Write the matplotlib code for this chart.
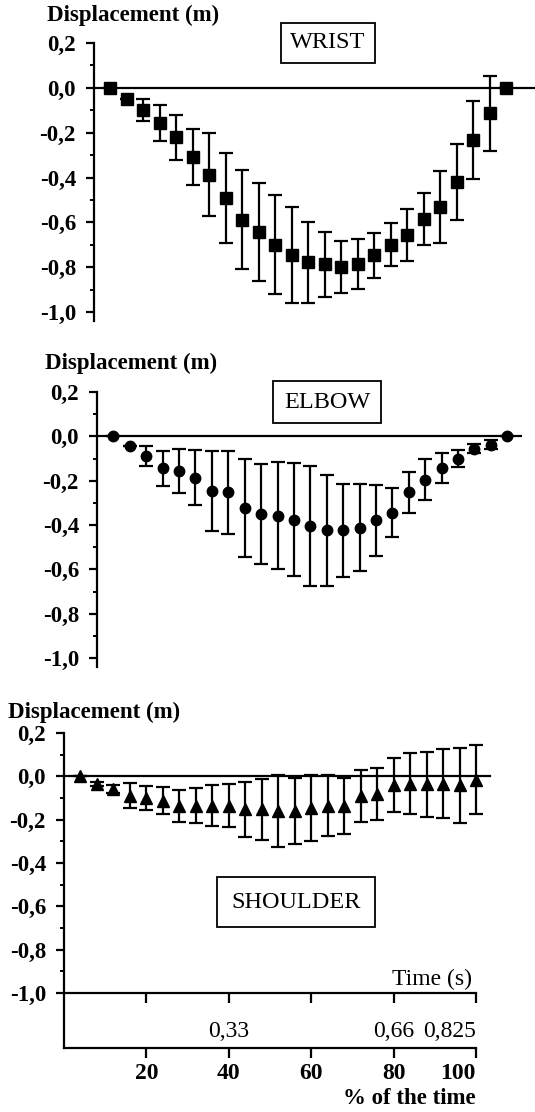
import matplotlib
matplotlib.use("Agg")
import matplotlib.pyplot as plt
import numpy as np

plt.rcParams['font.family'] = ['Liberation Serif', 'DejaVu Serif']

# % of movement time, one sample every 4 %
pct = np.arange(4, 101, 4)

wrist_mean = [0.0, -0.05, -0.10, -0.155, -0.22, -0.307, -0.387, -0.49, -0.588, -0.643,
              -0.70, -0.746, -0.778, -0.786, -0.80, -0.786, -0.746, -0.70, -0.657, -0.586,
              -0.532, -0.421, -0.233, -0.114, 0.0]
wrist_sd = [0.0, 0.0, 0.05, 0.08, 0.10, 0.125, 0.185, 0.20, 0.22, 0.22,
            0.22, 0.215, 0.18, 0.145, 0.115, 0.11, 0.10, 0.095, 0.115, 0.115,
            0.16, 0.17, 0.175, 0.166, 0.0]

elbow_mean = [0.0, -0.043, -0.088, -0.144, -0.156, -0.186, -0.246, -0.253, -0.323, -0.35,
              -0.357, -0.375, -0.405, -0.423, -0.423, -0.412, -0.378, -0.345, -0.253, -0.196,
              -0.144, -0.10, -0.055, -0.037, 0.0]
elbow_sd = [0.0, 0.0, 0.046, 0.078, 0.10, 0.123, 0.18, 0.186, 0.22, 0.225,
            0.24, 0.255, 0.27, 0.25, 0.21, 0.195, 0.16, 0.11, 0.094, 0.092,
            0.067, 0.04, 0.02, 0.02, 0.0]

shoulder_mean = [0.0, -0.034, -0.058, -0.089, -0.10, -0.112, -0.136, -0.136, -0.136, -0.136,
                 -0.152, -0.152, -0.16, -0.16, -0.147, -0.136, -0.136, -0.089, -0.081, -0.039,
                 -0.034, -0.037, -0.034, -0.042, -0.016]
shoulder_sd = [0.0, 0.01, 0.02, 0.056, 0.055, 0.063, 0.074, 0.08, 0.094, 0.10,
               0.127, 0.142, 0.165, 0.154, 0.152, 0.14, 0.13, 0.12, 0.121, 0.125,
               0.142, 0.15, 0.16, 0.174, 0.16]

y_ticks = [0.2, 0.0, -0.2, -0.4, -0.6, -0.8, -1.0]
y_ticklabels = ['0,2', '0,0', '-0,2', '-0,4', '-0,6', '-0,8', '-1,0']
pct_ticks = [20, 40, 60, 80, 100]
time_ticklabels = ['', '0,33', '', '0,66', '0,825']

W, H = 535, 1112
fig = plt.figure(figsize=(W / 100, H / 100), dpi=100)

TICK_FS = 16.5
BOX_FS = 17.5


def add_axes_px(left, top, right, bottom):
    return fig.add_axes([left / W, 1 - bottom / H, (right - left) / W, (bottom - top) / H])


def style_y(ax):
    for s in ('top', 'right', 'bottom'):
        ax.spines[s].set_visible(False)
    ax.spines['left'].set_linewidth(1.6)
    ax.set_yticks(y_ticks)
    ax.set_yticklabels(y_ticklabels, fontsize=TICK_FS, fontweight='bold')
    ax.set_yticks(np.arange(-0.9, 0.15, 0.2), minor=True)
    ax.tick_params(axis='y', which='major', length=6, width=1.6, pad=7)
    ax.tick_params(axis='y', which='minor', length=3, width=1.4)
    ax.set_xticks([])


def draw_series(ax, mean, sd, marker, ms):
    ax.errorbar(pct, mean, yerr=sd, fmt=marker, color='black', ms=ms,
                elinewidth=1.6, capsize=5, capthick=1.6, clip_on=False, zorder=3)


# WRIST
ax1 = add_axes_px(94, 43, 535, 321)
ax1.set_xlim(0, 107)
ax1.set_ylim(-1.04, 0.2)
style_y(ax1)
ax1.axhline(0, color='black', lw=1.6, zorder=2)
draw_series(ax1, wrist_mean, wrist_sd, 's', 8.5)
fig.text(47 / W, 1 - 15 / H, 'Displacement (m)', fontsize=TICK_FS, fontweight='bold',
         ha='left', va='center')
fig.text(328 / W, 1 - 43 / H, 'WRIST', fontsize=BOX_FS, ha='center', va='center',
         bbox=dict(boxstyle='square,pad=0.4', fc='white', ec='black', lw=1.3))

# ELBOW
ax2 = add_axes_px(97, 392, 522, 667)
ax2.set_xlim(0, 103.6)
ax2.set_ylim(-1.04, 0.2)
style_y(ax2)
ax2.axhline(0, color='black', lw=1.6, zorder=2)
draw_series(ax2, elbow_mean, elbow_sd, 'o', 7.5)
fig.text(45 / W, 1 - 363 / H, 'Displacement (m)', fontsize=TICK_FS, fontweight='bold',
         ha='left', va='center')
fig.text(327 / W, 1 - 402 / H, 'ELBOW', fontsize=BOX_FS, ha='center', va='center',
         bbox=dict(boxstyle='square,pad=0.45', fc='white', ec='black', lw=1.3))

# SHOULDER
ax3 = add_axes_px(64, 733, 476, 1048)
ax3.set_xlim(0, 100)
ax3.set_ylim(0.2 - 315 / 216.7, 0.2)
ax3.spines['top'].set_visible(False)
ax3.spines['right'].set_visible(False)
ax3.spines['left'].set_linewidth(1.6)
ax3.spines['bottom'].set_linewidth(1.6)
ax3.set_yticks(y_ticks)
ax3.set_yticklabels(y_ticklabels, fontsize=TICK_FS, fontweight='bold')
ax3.set_yticks(np.arange(-0.9, 0.15, 0.2), minor=True)
ax3.tick_params(axis='y', which='major', length=6, width=1.6, pad=7)
ax3.tick_params(axis='y', which='minor', length=3, width=1.4)
ax3.plot([0, 103.4], [0, 0], color='black', lw=1.6, clip_on=False, zorder=2)
draw_series(ax3, shoulder_mean, shoulder_sd, '^', 8.5)

# % of the time axis
ax3.set_xticks(pct_ticks)
ax3.set_xticklabels([str(t) for t in pct_ticks], fontsize=17, fontweight='bold')
ax3.get_xticklabels()[-1].set_horizontalalignment('right')
ax3.set_xticks([100], minor=True)
ax3.tick_params(axis='x', which='major', length=7, width=1.6, pad=4)
ax3.tick_params(axis='x', which='minor', direction='in', length=5, width=1.6)
ax3.text(100, -0.159, '% of the time', transform=ax3.get_xaxis_transform(),
         fontsize=TICK_FS, fontweight='bold', ha='right', va='center')

# Time axis at -1.0
sec = ax3.secondary_xaxis(-1.0, transform=ax3.transData)
sec.spines['bottom'].set_linewidth(1.6)
sec.set_xticks(pct_ticks)
sec.set_xticklabels(time_ticklabels, fontsize=17)
sec.get_xticklabels()[-1].set_horizontalalignment('right')
sec.set_xticks([100], minor=True)
sec.tick_params(axis='x', which='major', length=7, width=1.6, pad=13)
sec.tick_params(axis='x', which='minor', direction='in', length=5, width=1.6)
ax3.text(99, -0.985, 'Time (s)', fontsize=17, ha='right', va='bottom')

fig.text(8 / W, 1 - 712 / H, 'Displacement (m)', fontsize=TICK_FS, fontweight='bold',
         ha='left', va='center')
fig.text(296 / W, 1 - 902 / H, 'SHOULDER', fontsize=BOX_FS, ha='center', va='center',
         bbox=dict(boxstyle='square,pad=0.6', fc='white', ec='black', lw=1.3))

fig.savefig('out.png', dpi=100)
